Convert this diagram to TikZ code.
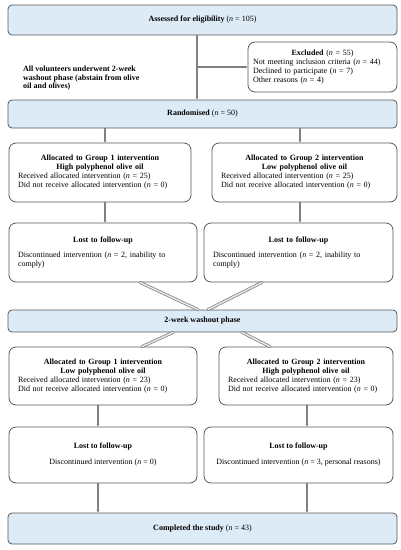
\documentclass[tikz,border=0pt]{standalone}
\usepackage{fontspec}
\setmainfont{Liberation Serif}
\usetikzlibrary{arrows.meta}
\definecolor{boxblue}{HTML}{DDEBF7}
\definecolor{boxline}{HTML}{595959}
\definecolor{arrowgray}{HTML}{808080}
\tikzset{
  stage/.style={draw=boxline,fill=boxblue,rounded corners=4pt,line width=0.8pt,
    minimum width=389pt,inner sep=0pt,font=\fontsize{8}{9}\selectfont},
  infobox/.style={draw=boxline,fill=white,rounded corners=7pt,line width=0.8pt,
    inner xsep=9pt,inner ysep=0pt,align=left,font=\fontsize{8}{9}\selectfont},
  flow/.style={draw=arrowgray,line width=1.4pt,-{Latex[length=2.5pt,width=3pt]}},
  phaseflow/.style={draw=boxline!80,line width=0.7pt,double=white!80!arrowgray,double distance=1.6pt}
}
\begin{document}
\begin{tikzpicture}[x=1pt,y=-1pt,line cap=round,line join=round]
\useasboundingbox (0,0) rectangle (400,550);
\node[stage,minimum height=30pt] (assess) at (202.5,20) {\textbf{Assessed for eligibility} (\textit{n} = 105)};
\node[infobox,inner xsep=5pt,text width=139pt,minimum height=50pt] (excl) at (322.5,67)
  {\centering\textbf{Excluded} (\textit{n} = 55)\par\raggedright
   Not meeting inclusion criteria (\textit{n} = 44)\\
   Declined to participate (\textit{n} = 7)\\
   Other reasons (\textit{n} = 4)};
\node[anchor=north west,align=left,inner sep=0pt,font=\fontsize{8}{8.6}\selectfont\bfseries] (note) at (23,66)
  {All volunteers underwent 2-week\\washout phase (abstain from olive\\oil and olives)};
\node[stage,minimum height=28pt] (rand) at (202.5,114) {\textbf{Randomised} (\textit{n} = 50)};

\node[infobox,text width=164pt,minimum height=59pt] (g1a) at (100,172.5)
  {\centering\textbf{Allocated to Group 1 intervention}\\\textbf{High polyphenol olive oil}\par\raggedright
   Received allocated intervention (\textit{n} = 25)\\
   Did not receive allocated intervention (\textit{n} = 0)};
\node[infobox,text width=167pt,minimum height=59pt] (g2a) at (304.5,172.5)
  {\centering\textbf{Allocated to Group 2 intervention}\\\textbf{Low polyphenol olive oil}\par\raggedright
   Received allocated intervention (\textit{n} = 25)\\
   Did not receive allocated intervention (\textit{n} = 0)};

\node[infobox,text width=170pt,minimum height=59pt] (lost1a) at (103,252.5)
  {\centering\textbf{Lost to follow-up}\par\vspace{6pt}\raggedright
   Discontinued intervention (\textit{n} = 2, inability to\\comply)};
\node[infobox,text width=171pt,minimum height=59pt] (lost2a) at (298.5,252.5)
  {\centering\textbf{Lost to follow-up}\par\vspace{6pt}\raggedright
   Discontinued intervention (\textit{n} = 2, inability to\\comply)};

\node[stage,minimum height=22pt] (wash) at (202.5,321) {\textbf{2-week washout phase}};

\node[infobox,text width=170pt,minimum height=58pt] (g1b) at (103,376)
  {\centering\textbf{Allocated to Group 1 intervention}\\\textbf{Low polyphenol olive oil}\par\raggedright
   Received allocated intervention (\textit{n} = 23)\\
   Did not receive allocated intervention (\textit{n} = 0)};
\node[infobox,text width=156pt,minimum height=58pt] (g2b) at (306,376)
  {\centering\textbf{Allocated to Group 2 intervention}\\\textbf{High polyphenol olive oil}\par\raggedright
   Received allocated intervention (\textit{n} = 23)\\
   Did not receive allocated intervention (\textit{n} = 0)};

\node[infobox,inner xsep=0pt,minimum width=188pt,minimum height=56pt,align=center] (lost1b) at (103,455)
  {\textbf{Lost to follow-up}\\[7pt]Discontinued intervention (\textit{n} = 0)};
\node[infobox,inner xsep=0pt,minimum width=189pt,minimum height=56pt,align=center] (lost2b) at (298.5,455)
  {\textbf{Lost to follow-up}\\[7pt]Discontinued intervention (\textit{n} = 3, personal reasons)};

\node[stage,minimum height=31pt] (done) at (202.5,528.5) {\textbf{Completed the study} (\textit{n} = 43)};

\coordinate (split) at (197,67);
\coordinate (colA) at (105,0);
\coordinate (colB) at (300,0);
\coordinate (colC) at (98,0);
\coordinate (colD) at (307,0);

\draw[flow] (assess.south -| split) -- (rand.north -| split);
\draw[flow] (split) -- (excl.west);
\draw[flow] (rand.south -| colA) -- (g1a.north -| colA);
\draw[flow] (rand.south -| colB) -- (g2a.north -| colB);
\draw[flow] (g1a.south -| colA) -- (lost1a.north -| colA);
\draw[flow] (g2a.south -| colB) -- (lost2a.north -| colB);
\draw[phaseflow] ([xshift=37pt]lost1a.south) -- ([xshift=-4.5pt]wash.north);
\draw[phaseflow] ([xshift=-36.5pt]lost2a.south) -- ([xshift=5.5pt]wash.north);
\draw[phaseflow] ([xshift=-29.5pt]wash.south) -- ([xshift=39pt]g1b.north);
\draw[phaseflow] ([xshift=39.5pt]wash.south) -- ([xshift=-36pt]g2b.north);
\draw[flow] (g1b.south -| colC) -- (lost1b.north -| colC);
\draw[flow] (g2b.south -| colD) -- (lost2b.north -| colD);
\draw[flow] (lost1b.south -| colC) -- (done.north -| colC);
\draw[flow] (lost2b.south -| colD) -- (done.north -| colD);
\end{tikzpicture}
\end{document}
